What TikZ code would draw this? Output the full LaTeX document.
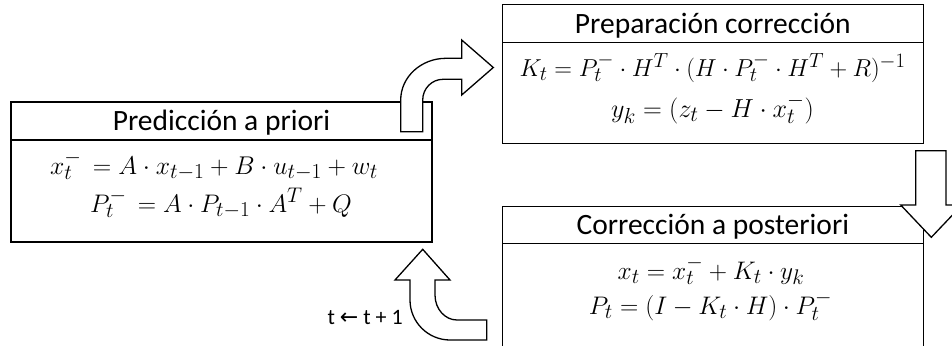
\documentclass[tikz,border=0pt]{standalone}
\usepackage[no-math]{fontspec}
\setmainfont{Carlito}
\newfontfamily\arrowfont{DejaVu Sans}
\begin{document}
\begin{tikzpicture}[x=1pt,y=-1pt,
  hdr/.style={draw,line width=1.3pt,minimum width=421pt,minimum height=38pt,inner sep=0pt,
    text height=25pt,text depth=6pt,font=\fontsize{29.5}{34}\selectfont},
  body/.style={draw,line width=1.3pt,minimum width=421pt,inner sep=0pt},
  eq/.style={inner sep=0pt,anchor=base,font=\fontsize{24.88}{30}\selectfont},
  flow/.style={draw,fill=white,line width=1.3pt,line join=miter}]
\useasboundingbox (0,0) rectangle (952,345);
\clip (0,0) rectangle (952,345);
% left box
\node[body,minimum height=102pt] (predB) at (221.5,191) {};
\node[hdr] (predH) at (221.5,121) {Predicción a priori};
\node[eq,scale=1.03] (pe1) at (214,174) {$x_t^- \,= A\cdot x_{t-1} + B\cdot u_{t-1} + w_t$};
\node[eq,scale=1.02] (pe2) at (221,212) {$P_t^- \,= A\cdot P_{t-1}\cdot A^T + Q$};
% top right box
\node[body,minimum height=100.6pt] (prepB) at (712.8,93) {};
\node[hdr] (prepH) at (712.8,23.7) {Preparación corrección};
\node[eq,scale=0.985] (qe1) at (712.5,76) {$K_t = P_t^-\cdot H^T\cdot (H\cdot P_t^-\cdot H^T + R)^{-1}$};
\node[eq,scale=1.05] (qe2) at (712.5,117.5) {$y_k = (z_t - H\cdot x_t^-)$};
% bottom right box
\node[body,minimum height=156.7pt] (corrB) at (712.8,321.7) {};
\node[hdr,minimum height=36.6pt] (corrH) at (712.8,225) {Corrección a posteriori};
\node[eq,scale=1.02] (ce1) at (711,279) {$x_t = x_t^- + K_t\cdot y_k$};
\node[eq,scale=1.02] (ce2) at (710.5,314.5) {$P_t = (I - K_t\cdot H)\cdot P_t^-$};
% arrow predicción -> preparación
\draw[flow] (400.7,131.7) -- (400.7,100)
  .. controls (400.7,77) and (421,58.3) .. (446,58.3)
  -- (461.7,58.3) -- (461.7,40) -- (493.3,67.5) -- (461.7,95) -- (461.7,79.3)
  -- (443,79.3) .. controls (431.8,79.3) and (422.7,88.6) .. (422.7,100)
  -- (422.7,131.7) -- cycle;
% arrow preparación -> corrección
\draw[flow] (915.7,150.7) -- (946,150.7) -- (946,205) -- (962,205) -- (931.3,237.3)
  -- (900.7,205) -- (915.7,205) -- cycle;
% arrow corrección -> predicción
\draw[flow] (422.7,249.3) -- (450,280) -- (435,280) -- (435,295)
  .. controls (435,309) and (445,320) .. (457,320)
  -- (486.7,320) -- (486.7,340) -- (450,340)
  .. controls (428,340) and (410,322) .. (410,300)
  -- (410,280) -- (395,280) -- cycle;
\node[inner sep=0pt,anchor=base east,font=\fontsize{22}{26}\selectfont] (lbl) at (403,324.3)
  {t {\arrowfont ←} t + 1};
\end{tikzpicture}
\end{document}
